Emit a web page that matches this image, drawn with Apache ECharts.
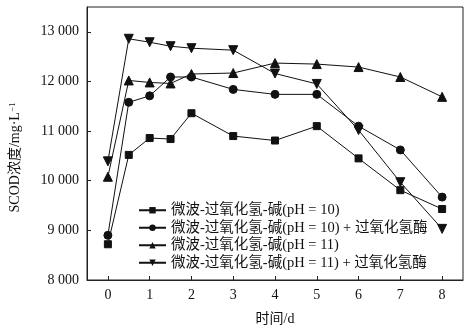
<!DOCTYPE html>
<html>
<head>
<meta charset="utf-8">
<script src="https://cdn.jsdelivr.net/npm/echarts@6/dist/echarts.min.js"></script>
<style>
  html, body { margin: 0; padding: 0; background: #fff; }
  #chart { width: 473px; height: 331px; }
</style>
</head>
<body>
<div id="chart"></div>
<script>
// Sampling times (d)
const days = [0, 0.5, 1, 1.5, 2, 3, 4, 5, 6, 7, 8];

// SCOD concentration (mg/L) for each pretreatment
const seriesNames = [
  '微波-过氧化氢-碱(pH = 10)',
  '微波-过氧化氢-碱(pH = 10) + 过氧化氢酶',
  '微波-过氧化氢-碱(pH = 11)',
  '微波-过氧化氢-碱(pH = 11) + 过氧化氢酶'
];
const scodPH10 = [8720, 10520, 10860, 10840, 11360, 10900, 10810, 11100, 10450, 9810, 9430];
const scodPH10Cat = [8900, 11580, 11710, 12090, 12090, 11840, 11740, 11740, 11100, 10620, 9670];
const scodPH11 = [10080, 12020, 11980, 11960, 12150, 12170, 12370, 12350, 12290, 12090, 11690];
const scodPH11Cat = [10390, 12860, 12790, 12710, 12670, 12630, 12160, 11950, 11020, 9970, 9030];

// Axis ticks
const xTicks = [0, 1, 2, 3, 4, 5, 6, 7, 8];
const yTicks = [8000, 9000, 10000, 11000, 12000, 13000];

const serif = "'Times New Roman', 'Liberation Serif', 'Noto Sans CJK SC', serif";
const ink = '#111';

const invTriangle = 'path://M0,0 L10,0 L5,9 Z';
const markers = [
  { symbol: 'rect', size: 7 },
  { symbol: 'circle', size: 8 },
  { symbol: 'triangle', size: 9 },
  { symbol: invTriangle, size: 9 }
];
const values = [scodPH10, scodPH10Cat, scodPH11, scodPH11Cat];

const chart = echarts.init(document.getElementById('chart'), null, { renderer: 'canvas' });

chart.setOption({
  animation: false,
  backgroundColor: '#fff',
  textStyle: { fontFamily: serif, color: ink },
  grid: {
    left: 83, right: 10, top: 7, bottom: 44,
    show: true, borderColor: '#222', borderWidth: 1
  },
  legend: {
    left: 133, top: 198,
    orient: 'vertical',
    itemWidth: 27, itemHeight: 8, itemGap: 3,
    textStyle: { fontFamily: serif, fontSize: 14.5, color: ink },
    data: seriesNames
  },
  xAxis: {
    type: 'value',
    min: -0.5, max: 8.5,
    name: '时间/d',
    nameLocation: 'middle',
    nameGap: 32,
    nameTextStyle: { fontFamily: serif, fontSize: 14, color: ink },
    axisLine: { onZero: false, lineStyle: { color: '#222', width: 1 } },
    axisTick: { inside: true, length: 4, customValues: xTicks, lineStyle: { color: '#222' } },
    axisLabel: { customValues: xTicks, fontFamily: serif, fontSize: 14, color: ink, margin: 8 },
    splitLine: { show: false }
  },
  yAxis: {
    type: 'value',
    min: 8000, max: 13500,
    name: 'SCOD浓度/mg·L{sup|−1}',
    nameLocation: 'middle',
    nameGap: 64,
    nameTextStyle: {
      fontFamily: serif, fontSize: 14, color: ink,
      padding: [0, 28, 0, 0],
      rich: { sup: { fontSize: 9, fontFamily: serif, color: ink, verticalAlign: 'top', padding: [0, 0, 6, 0] } }
    },
    axisLine: { onZero: false, lineStyle: { color: '#222', width: 1 } },
    axisTick: { inside: true, length: 4, customValues: yTicks, lineStyle: { color: '#222' } },
    axisLabel: {
      customValues: yTicks,
      fontFamily: serif, fontSize: 14, color: ink, margin: 8,
      formatter: v => {
        const s = String(Math.round(v));
        return s.length > 3 ? s.slice(0, s.length - 3) + ' ' + s.slice(-3) : s;
      }
    },
    splitLine: { show: false }
  },
  series: seriesNames.map((name, i) => ({
    name,
    type: 'line',
    data: days.map((d, k) => [d, values[i][k]]),
    symbol: markers[i].symbol,
    symbolSize: markers[i].size,
    showAllSymbol: true,
    lineStyle: { color: ink, width: 1 },
    itemStyle: { color: ink, borderColor: ink },
    z: 2 + i
  }))
});
</script>
</body>
</html>
